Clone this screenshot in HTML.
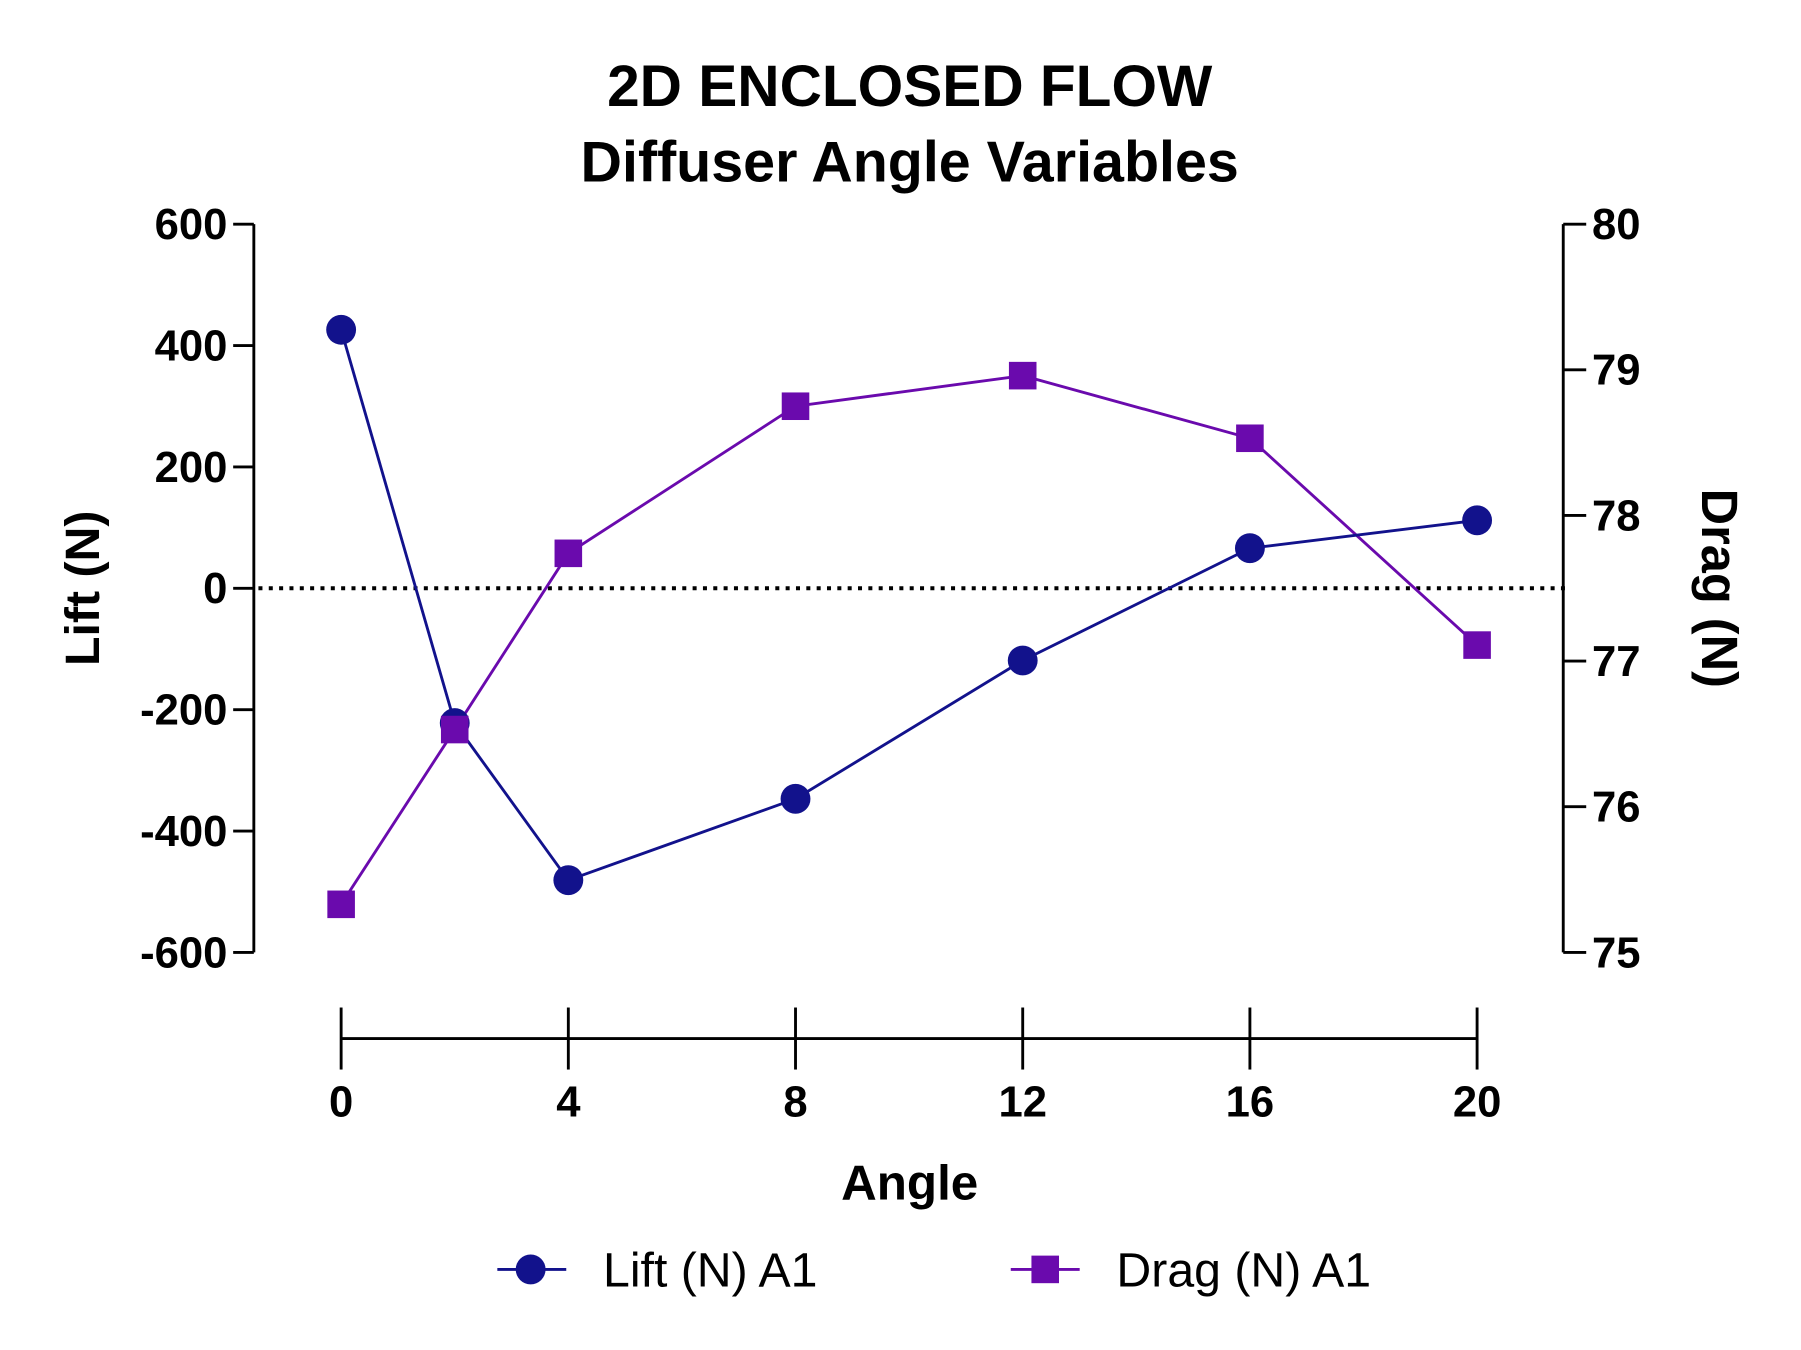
<!DOCTYPE html>
<html><head><meta charset="utf-8"><style>
html,body{margin:0;padding:0;background:#fff;}
svg{display:block;font-family:"Liberation Sans",Arial,sans-serif;}
</style></head><body>
<svg id="chart" width="1801" height="1350" viewBox="0 0 1568 1175" xmlns="http://www.w3.org/2000/svg">
<rect width="1568" height="1175" fill="#fff"/>
<text x="792" y="92" text-anchor="middle" font-size="51" font-weight="bold">2D ENCLOSED FLOW</text>
<text x="792" y="158" text-anchor="middle" font-size="50" font-weight="bold">Diffuser Angle Variables</text>
<g id="axes"></g>
<g id="series"></g>
<text x="792" y="1044" text-anchor="middle" font-size="43" font-weight="bold">Angle</text>
<text transform="translate(86,512) rotate(-90)" text-anchor="middle" font-size="42" font-weight="bold">Lift (N)</text>
<text transform="translate(1482,512) rotate(90)" text-anchor="middle" font-size="44" font-weight="bold">Drag (N)</text>
<g>
<g>
<line x1="433" y1="1105" x2="493" y2="1105" stroke="#12128c" stroke-width="2.5"/>
<circle cx="462" cy="1105" r="13" fill="#12128c"/>
<text x="525" y="1120" font-size="42">Lift (N) A1</text>
</g>
<g>
<line x1="880" y1="1105" x2="940" y2="1105" stroke="#6a0aad" stroke-width="2.5"/>
<rect x="898" y="1093" width="24" height="24" fill="#6a0aad"/>
<text x="972" y="1120" font-size="42">Drag (N) A1</text>
</g>
</g>
</svg>
<script>
const angles = [0, 2, 4, 8, 12, 16, 20];
const lift = [426, -222, -481, -347, -119, 66, 112];
const drag = [75.33, 76.53, 77.74, 78.75, 78.96, 78.53, 77.11];
const xTicks = [0, 4, 8, 12, 16, 20];
const liftTicks = [-600, -400, -200, 0, 200, 400, 600];
const dragTicks = [75, 76, 77, 78, 79, 80];

const NS = "http://www.w3.org/2000/svg";
const xS = v => 297 + (v - 0) * (1286 - 297) / 20;
const yL = v => 512 - v * (829 - 195) / 1200;
const yR = v => 829 - (v - 75) * (829 - 195) / 5;
function mk(tag, attrs, parent) {
  const e = document.createElementNS(NS, tag);
  for (const k in attrs) e.setAttribute(k, attrs[k]);
  parent.appendChild(e);
  return e;
}
const axes = document.getElementById('axes');
const series = document.getElementById('series');

const la = mk('line', {x1:221, y1:yL(600), x2:221, y2:yL(-600), stroke:'#000', 'stroke-width':2.5}, axes);


liftTicks.forEach(t => {
  mk('line', {x1:203, y1:yL(t), x2:221, y2:yL(t), stroke:'#000', 'stroke-width':2.5}, axes);
  const tx = mk('text', {x:198, y:yL(t)+13, 'text-anchor':'end', 'font-size':38, 'font-weight':'bold'}, axes);
  tx.textContent = t;
  
  
});
const ra = mk('line', {x1:1361, y1:yR(80), x2:1361, y2:yR(75), stroke:'#000', 'stroke-width':2.5}, axes);


dragTicks.forEach(t => {
  mk('line', {x1:1361, y1:yR(t), x2:1381, y2:yR(t), stroke:'#000', 'stroke-width':2.5}, axes);
  const tx = mk('text', {x:1386, y:yR(t)+13, 'font-size':38, 'font-weight':'bold'}, axes);
  tx.textContent = t;
  
  
});
const xa = mk('line', {x1:xS(0), y1:904, x2:xS(20), y2:904, stroke:'#000', 'stroke-width':2.5}, axes);


xTicks.forEach(t => {
  mk('line', {x1:xS(t), y1:877, x2:xS(t), y2:931, stroke:'#000', 'stroke-width':2.5}, axes);
  const tx = mk('text', {x:xS(t), y:972, 'text-anchor':'middle', 'font-size':38, 'font-weight':'bold'}, axes);
  tx.textContent = t;
  
  
});
const zl = mk('line', {x1:225, y1:yL(0), x2:1366, y2:yL(0), stroke:'#000', 'stroke-width':3.5, 'stroke-dasharray':'3.5 5.5'}, axes);



const dl = mk('polyline', {points: angles.map((a,i)=>xS(a)+','+yR(drag[i])).join(' '), fill:'none', stroke:'#6a0aad', 'stroke-width':2.5}, series);


const ll = mk('polyline', {points: angles.map((a,i)=>xS(a)+','+yL(lift[i])).join(' '), fill:'none', stroke:'#12128c', 'stroke-width':2.5}, series);


angles.forEach((a,i) => {
  const c = mk('circle', {cx:xS(a), cy:yL(lift[i]), r:13, fill:'#12128c'}, series);
  
  
});
angles.forEach((a,i) => {
  const r = mk('rect', {x:xS(a)-12, y:yR(drag[i])-12, width:24, height:24, fill:'#6a0aad'}, series);
  
  
});
</script>
</body></html>
